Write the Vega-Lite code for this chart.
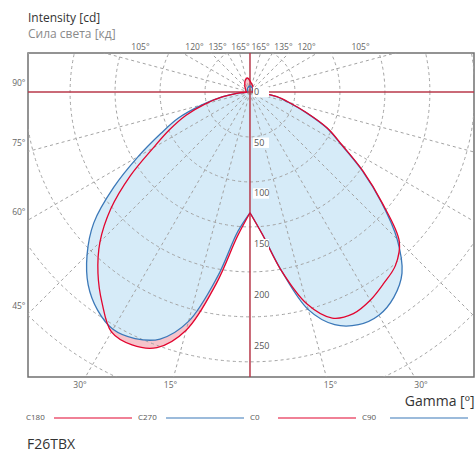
{
  "$schema": "https://vega.github.io/schema/vega-lite/v6.json",
  "width": 446,
  "height": 324,
  "autosize": {"type": "none"},
  "padding": {"left": 28, "top": 53, "right": 2, "bottom": 83},
  "background": "white",
  "config": {"view": {"stroke": "#707070", "strokeWidth": 1.5}, "font": "Open Sans"},
  "title": {"text": "Intensity [cd]", "subtitle": "Сила света [кд]", "anchor": "start", "frame": "group", "fontSize": 12, "fontWeight": "normal", "color": "#333333", "subtitleFontSize": 12, "subtitleColor": "#8a8a8a", "subtitlePadding": 4, "offset": 1, "font": "Open Sans", "subtitleFont": "Open Sans"},
  "datasets": {
    "curves": [
      {"plane": "C0", "gamma": 0, "I": 119}, {"plane": "C0", "gamma": 5, "I": 141}, {"plane": "C0", "gamma": 10, "I": 179}, {"plane": "C0", "gamma": 15, "I": 216}, {"plane": "C0", "gamma": 20, "I": 237}, {"plane": "C0", "gamma": 25, "I": 241}, {"plane": "C0", "gamma": 30, "I": 237}, {"plane": "C0", "gamma": 35, "I": 230}, {"plane": "C0", "gamma": 40, "I": 223}, {"plane": "C0", "gamma": 45, "I": 208}, {"plane": "C0", "gamma": 50, "I": 170}, {"plane": "C0", "gamma": 55, "I": 136}, {"plane": "C0", "gamma": 60, "I": 105}, {"plane": "C0", "gamma": 65, "I": 84}, {"plane": "C0", "gamma": 70, "I": 59}, {"plane": "C0", "gamma": 75, "I": 40}, {"plane": "C0", "gamma": 80, "I": 27}, {"plane": "C0", "gamma": 85, "I": 12}, {"plane": "C0", "gamma": 90, "I": 3}, {"plane": "C0", "gamma": 100, "I": 3}, {"plane": "C0", "gamma": 120, "I": 4}, {"plane": "C0", "gamma": 140, "I": 5}, {"plane": "C0", "gamma": 160, "I": 7}, {"plane": "C0", "gamma": 180, "I": 11},
      {"plane": "C90", "gamma": 0, "I": 119}, {"plane": "C90", "gamma": 5, "I": 141}, {"plane": "C90", "gamma": 10, "I": 179}, {"plane": "C90", "gamma": 15, "I": 222}, {"plane": "C90", "gamma": 20, "I": 244}, {"plane": "C90", "gamma": 25, "I": 253}, {"plane": "C90", "gamma": 30, "I": 254}, {"plane": "C90", "gamma": 35, "I": 247}, {"plane": "C90", "gamma": 40, "I": 233}, {"plane": "C90", "gamma": 45, "I": 205}, {"plane": "C90", "gamma": 50, "I": 169}, {"plane": "C90", "gamma": 55, "I": 135}, {"plane": "C90", "gamma": 60, "I": 104}, {"plane": "C90", "gamma": 65, "I": 83}, {"plane": "C90", "gamma": 70, "I": 58}, {"plane": "C90", "gamma": 75, "I": 39}, {"plane": "C90", "gamma": 80, "I": 27}, {"plane": "C90", "gamma": 85, "I": 12}, {"plane": "C90", "gamma": 90, "I": 3}, {"plane": "C90", "gamma": 100, "I": 3}, {"plane": "C90", "gamma": 120, "I": 3}, {"plane": "C90", "gamma": 140, "I": 4}, {"plane": "C90", "gamma": 160, "I": 5}, {"plane": "C90", "gamma": 180, "I": 6},
      {"plane": "C180", "gamma": 0, "I": 119}, {"plane": "C180", "gamma": 5, "I": 143}, {"plane": "C180", "gamma": 10, "I": 192}, {"plane": "C180", "gamma": 15, "I": 243}, {"plane": "C180", "gamma": 20, "I": 268}, {"plane": "C180", "gamma": 25, "I": 275}, {"plane": "C180", "gamma": 30, "I": 273}, {"plane": "C180", "gamma": 35, "I": 254}, {"plane": "C180", "gamma": 40, "I": 233}, {"plane": "C180", "gamma": 45, "I": 209}, {"plane": "C180", "gamma": 50, "I": 179}, {"plane": "C180", "gamma": 55, "I": 144}, {"plane": "C180", "gamma": 60, "I": 110}, {"plane": "C180", "gamma": 65, "I": 87}, {"plane": "C180", "gamma": 70, "I": 67}, {"plane": "C180", "gamma": 75, "I": 46}, {"plane": "C180", "gamma": 80, "I": 27}, {"plane": "C180", "gamma": 85, "I": 12}, {"plane": "C180", "gamma": 90, "I": 3}, {"plane": "C180", "gamma": 100, "I": 4}, {"plane": "C180", "gamma": 120, "I": 5}, {"plane": "C180", "gamma": 140, "I": 8}, {"plane": "C180", "gamma": 160, "I": 13}, {"plane": "C180", "gamma": 170, "I": 14}, {"plane": "C180", "gamma": 180, "I": 11},
      {"plane": "C270", "gamma": 0, "I": 119}, {"plane": "C270", "gamma": 5, "I": 138}, {"plane": "C270", "gamma": 10, "I": 185}, {"plane": "C270", "gamma": 15, "I": 234}, {"plane": "C270", "gamma": 20, "I": 259}, {"plane": "C270", "gamma": 25, "I": 268}, {"plane": "C270", "gamma": 30, "I": 270}, {"plane": "C270", "gamma": 35, "I": 262}, {"plane": "C270", "gamma": 40, "I": 248}, {"plane": "C270", "gamma": 45, "I": 227}, {"plane": "C270", "gamma": 50, "I": 201}, {"plane": "C270", "gamma": 55, "I": 164}, {"plane": "C270", "gamma": 60, "I": 127}, {"plane": "C270", "gamma": 65, "I": 97}, {"plane": "C270", "gamma": 70, "I": 75}, {"plane": "C270", "gamma": 75, "I": 49}, {"plane": "C270", "gamma": 80, "I": 28}, {"plane": "C270", "gamma": 85, "I": 12}, {"plane": "C270", "gamma": 90, "I": 3}, {"plane": "C270", "gamma": 100, "I": 3}, {"plane": "C270", "gamma": 120, "I": 3}, {"plane": "C270", "gamma": 140, "I": 4}, {"plane": "C270", "gamma": 160, "I": 5}, {"plane": "C270", "gamma": 180, "I": 6}
    ],
    "rays": [
      {"angle": -165}, {"angle": -150}, {"angle": -135}, {"angle": -120}, {"angle": -105}, {"angle": -75}, {"angle": -60}, {"angle": -45}, {"angle": -30}, {"angle": -15},
      {"angle": 15}, {"angle": 30}, {"angle": 45}, {"angle": 60}, {"angle": 75}, {"angle": 105}, {"angle": 120}, {"angle": 135}, {"angle": 150}, {"angle": 165}
    ],
    "circles": [{"r": 50}, {"r": 100}, {"r": 150}, {"r": 200}, {"r": 250}, {"r": 300}, {"r": 350}],
    "rlabels": [{"v": 0}, {"v": 50}, {"v": 100}, {"v": 150}, {"v": 200}, {"v": 250}]
  },
  "resolve": {"axis": {"x": "independent", "y": "independent"}},
  "layer": [
    {
      "data": {"name": "curves"},
      "transform": [
        {"filter": "datum.plane == 'C0' || datum.plane == 'C180'"},
        {"calculate": "(datum.plane == 'C0' || datum.plane == 'C90' ? 1 : -1) * datum.I * sin(datum.gamma * PI / 180)", "as": "x"},
        {"calculate": "-datum.I * cos(datum.gamma * PI / 180)", "as": "y"}
      ],
      "mark": {"type": "line", "fill": "#f6c4cb", "stroke": "transparent", "interpolate": "catmull-rom"},
      "encoding": {
        "x": {"field": "x", "type": "quantitative", "scale": {"domain": [-218.7, 220.7], "nice": false, "zero": false},
          "axis": {"orient": "bottom", "values": [-168, -78.8, 78.8, 168], "labelExpr": "abs(datum.value) > 120 ? '30°' : '15°'", "ticks": false, "domain": false, "grid": false, "labelFontSize": 8.5, "labelColor": "#666666", "labelPadding": 3, "labelOverlap": false, "labelFlush": false, "title": "Gamma [º]", "titleAnchor": "end", "titleFontSize": 14, "titleFontWeight": "normal", "titleColor": "#333333", "titlePadding": 6}},
        "y": {"field": "y", "type": "quantitative", "scale": {"domain": [-280.8, 38.4], "nice": false, "zero": false},
          "axis": {"orient": "left", "values": [9.5, -50.2, -117.6, -210.5], "labelExpr": "datum.value > 0 ? '90°' : datum.value > -80 ? '75°' : datum.value > -150 ? '60°' : '45°'", "ticks": false, "domain": false, "grid": false, "labelFontSize": 8.5, "labelColor": "#666666", "labelPadding": 3, "labelOverlap": false, "labelFlush": false, "title": null}},
        "detail": {"field": "plane", "type": "nominal"},
        "order": {"field": "gamma", "type": "quantitative"}
      }
    },
    {
      "data": {"name": "curves"},
      "transform": [
        {"filter": "datum.plane == 'C90' || datum.plane == 'C270'"},
        {"calculate": "(datum.plane == 'C0' || datum.plane == 'C90' ? 1 : -1) * datum.I * sin(datum.gamma * PI / 180)", "as": "x"},
        {"calculate": "-datum.I * cos(datum.gamma * PI / 180)", "as": "y"}
      ],
      "mark": {"type": "line", "fill": "#d6ebf8", "stroke": "transparent", "interpolate": "catmull-rom"},
      "encoding": {
        "x": {"field": "x", "type": "quantitative", "axis": null},
        "y": {"field": "y", "type": "quantitative", "axis": null},
        "detail": {"field": "plane", "type": "nominal"},
        "order": {"field": "gamma", "type": "quantitative"}
      }
    },
    {
      "data": {"name": "rays"},
      "transform": [
        {"calculate": "0", "as": "x0"},
        {"calculate": "0", "as": "y0"},
        {"calculate": "600 * sin(datum.angle * PI / 180)", "as": "x2"},
        {"calculate": "-600 * cos(datum.angle * PI / 180)", "as": "y2"}
      ],
      "mark": {"type": "rule", "clip": true, "stroke": "#a3a3a3", "strokeWidth": 1, "strokeDash": [3, 3]},
      "encoding": {
        "x": {"field": "x0", "type": "quantitative",
          "axis": {"orient": "top", "values": [-108.4, -55.2, -32.5, -9.9, 9.9, 32.5, 55.2, 108.4], "labelExpr": "abs(datum.value) > 80 ? '105°' : abs(datum.value) > 45 ? '120°' : abs(datum.value) > 20 ? '135°' : '165°'", "ticks": false, "domain": false, "grid": false, "labelFontSize": 8.5, "labelColor": "#666666", "labelPadding": 2, "labelOverlap": false, "labelFlush": false, "labelBound": false, "title": null}},
        "y": {"field": "y0", "type": "quantitative", "axis": null},
        "x2": {"field": "x2"},
        "y2": {"field": "y2"}
      }
    },
    {
      "data": {"name": "circles"},
      "transform": [
        {"calculate": "0", "as": "x0"},
        {"calculate": "0", "as": "y0"}
      ],
      "mark": {"type": "point", "shape": "circle", "clip": true, "filled": false, "stroke": "#a3a3a3", "strokeWidth": 1, "strokeDash": [3, 3], "opacity": 1},
      "encoding": {
        "x": {"field": "x0", "type": "quantitative", "axis": null},
        "y": {"field": "y0", "type": "quantitative", "axis": null},
        "size": {"field": "r", "type": "quantitative", "scale": {"type": "pow", "exponent": 2, "domain": [0, 350], "range": [0, 396476], "zero": true}, "legend": null}
      }
    },
    {
      "data": {"values": [{"v": 0}]},
      "mark": {"type": "rule", "color": "#b8394a", "strokeWidth": 1.5},
      "encoding": {"y": {"field": "v", "type": "quantitative", "axis": null}}
    },
    {
      "data": {"values": [{"v": 0}]},
      "mark": {"type": "rule", "color": "#b8394a", "strokeWidth": 1.5},
      "encoding": {"x": {"field": "v", "type": "quantitative", "axis": null}}
    },
    {
      "data": {"name": "curves"},
      "transform": [
        {"filter": "datum.plane == 'C90' || datum.plane == 'C270'"},
        {"calculate": "(datum.plane == 'C0' || datum.plane == 'C90' ? 1 : -1) * datum.I * sin(datum.gamma * PI / 180)", "as": "x"},
        {"calculate": "-datum.I * cos(datum.gamma * PI / 180)", "as": "y"}
      ],
      "mark": {"type": "line", "strokeWidth": 1.3, "interpolate": "catmull-rom"},
      "encoding": {
        "x": {"field": "x", "type": "quantitative", "axis": null},
        "y": {"field": "y", "type": "quantitative", "axis": null},
        "color": {"field": "plane", "type": "nominal",
          "scale": {"domain": ["C180", "C270", "C0", "C90"], "range": ["#e2052f", "#3b78b8", "#e2052f", "#3b78b8"]},
          "legend": {"orient": "none", "legendX": -1, "legendY": 361, "direction": "horizontal", "symbolType": "M7.67,0L33.67,0", "symbolSize": 36, "symbolStrokeWidth": 1.2, "labelAlign": "left", "labelOffset": -9, "labelFontSize": 8, "labelColor": "#555555", "labelFont": "Open Sans", "columnPadding": 3, "title": "F26TBX", "titleOrient": "bottom", "titleAnchor": "start", "titleFontSize": 14, "titleFontWeight": "normal", "titleColor": "#333333", "titleFont": "Open Sans", "titlePadding": 16}},
        "order": {"field": "gamma", "type": "quantitative"}
      }
    },
    {
      "data": {"name": "curves"},
      "transform": [
        {"filter": "datum.plane == 'C0' || datum.plane == 'C180'"},
        {"calculate": "(datum.plane == 'C0' || datum.plane == 'C90' ? 1 : -1) * datum.I * sin(datum.gamma * PI / 180)", "as": "x"},
        {"calculate": "-datum.I * cos(datum.gamma * PI / 180)", "as": "y"}
      ],
      "mark": {"type": "line", "strokeWidth": 1.3, "interpolate": "catmull-rom"},
      "encoding": {
        "x": {"field": "x", "type": "quantitative", "axis": null},
        "y": {"field": "y", "type": "quantitative", "axis": null},
        "color": {"field": "plane", "type": "nominal"},
        "order": {"field": "gamma", "type": "quantitative"}
      }
    },
    {
      "data": {"name": "rlabels"},
      "transform": [{"calculate": "-datum.v", "as": "ny"}, {"calculate": "0", "as": "x0"}],
      "mark": {"type": "point", "shape": "M-1,-0.65L1,-0.65L1,0.65L-1,0.65Z", "filled": true, "fill": "white", "opacity": 1, "strokeWidth": 0, "size": 256, "xOffset": 11},
      "encoding": {
        "x": {"field": "x0", "type": "quantitative", "axis": null},
        "y": {"field": "ny", "type": "quantitative", "axis": null}
      }
    },
    {
      "data": {"name": "rlabels"},
      "transform": [{"calculate": "-datum.v", "as": "ny"}, {"calculate": "0", "as": "x0"}],
      "mark": {"type": "text", "align": "left", "baseline": "middle", "dx": 4, "fontSize": 9, "color": "#555555", "font": "Open Sans"},
      "encoding": {
        "x": {"field": "x0", "type": "quantitative", "axis": null},
        "y": {"field": "ny", "type": "quantitative", "axis": null},
        "text": {"field": "v", "type": "quantitative"}
      }
    }
  ]
}
